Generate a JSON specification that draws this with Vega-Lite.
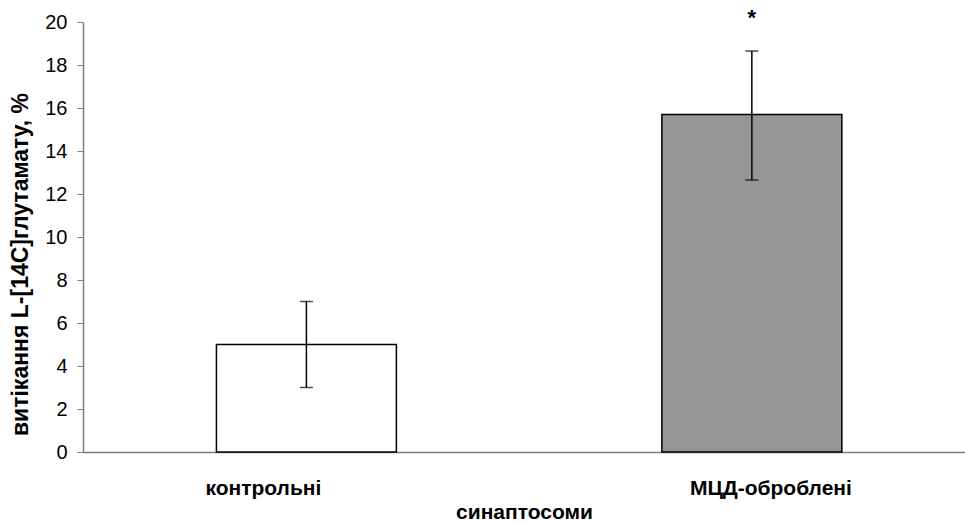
{
  "$schema": "https://vega.github.io/schema/vega-lite/v6.json",
  "width": 882,
  "height": 430,
  "autosize": {"type": "none"},
  "padding": {"left": 83, "top": 22, "right": 0, "bottom": 70},
  "background": "white",
  "config": {
    "view": {"stroke": null},
    "font": "Liberation Sans"
  },
  "data": {
    "values": [
      {"group": "контрольні", "value": 5.0, "lo": 3.0, "hi": 7.0, "sig": ""},
      {"group": "МЦД-оброблені", "value": 15.7, "lo": 12.65, "hi": 18.65, "sig": "*"}
    ]
  },
  "encoding": {
    "x": {
      "field": "group",
      "type": "nominal",
      "sort": null,
      "scale": {"paddingInner": 0.596, "paddingOuter": 0.288, "align": 0.52},
      "axis": {
        "title": "синаптосоми",
        "titleFont": "Liberation Sans",
        "titleFontSize": 21,
        "titleFontWeight": "bold",
        "titleColor": "black",
        "titleBaseline": "alphabetic",
        "titleY": 66,
        "labelFont": "Liberation Sans",
        "labelFontSize": 21,
        "labelFontWeight": "bold",
        "labelColor": "black",
        "labelAngle": 0,
        "labelBaseline": "alphabetic",
        "labelPadding": 42,
        "labelOffset": {"condition": {"test": "datum.value === 'контрольні'", "value": -43}, "value": 19},
        "ticks": false,
        "domainColor": "#808080",
        "domainWidth": 1.5
      }
    }
  },
  "layer": [
    {
      "mark": {"type": "bar", "stroke": "black", "strokeWidth": 1.5},
      "encoding": {
        "y": {
          "field": "value",
          "type": "quantitative",
          "scale": {"domain": [0, 20]},
          "axis": {
            "title": "витікання L-[14C]глутамату, %",
            "titleFont": "Liberation Sans",
            "titleFontSize": 23,
            "titleFontWeight": "bold",
            "titleColor": "black",
            "titleBaseline": "alphabetic",
            "titleX": -56,
            "titleY": 242,
            "labelFont": "Liberation Sans",
            "labelFontSize": 20,
            "labelColor": "black",
            "labelPadding": 10,
            "values": [0, 2, 4, 6, 8, 10, 12, 14, 16, 18, 20],
            "tickSize": 6,
            "tickColor": "#808080",
            "domainColor": "#808080",
            "domainWidth": 1.5,
            "grid": false
          }
        },
        "fill": {
          "field": "group",
          "type": "nominal",
          "scale": {"domain": ["контрольні", "МЦД-оброблені"], "range": ["#ffffff", "#969696"]},
          "legend": null
        }
      }
    },
    {
      "mark": {"type": "rule", "color": "black", "strokeWidth": 1.5},
      "encoding": {
        "y": {"field": "lo", "type": "quantitative"},
        "y2": {"field": "hi"}
      }
    },
    {
      "mark": {"type": "tick", "color": "black", "thickness": 1.5, "size": 13},
      "encoding": {"y": {"field": "lo", "type": "quantitative"}}
    },
    {
      "mark": {"type": "tick", "color": "black", "thickness": 1.5, "size": 13},
      "encoding": {"y": {"field": "hi", "type": "quantitative"}}
    },
    {
      "mark": {"type": "text", "font": "Liberation Sans", "fontSize": 22, "fontWeight": "bold", "color": "black", "baseline": "alphabetic", "dy": -26},
      "encoding": {
        "y": {"field": "hi", "type": "quantitative"},
        "text": {"field": "sig"}
      }
    }
  ]
}
